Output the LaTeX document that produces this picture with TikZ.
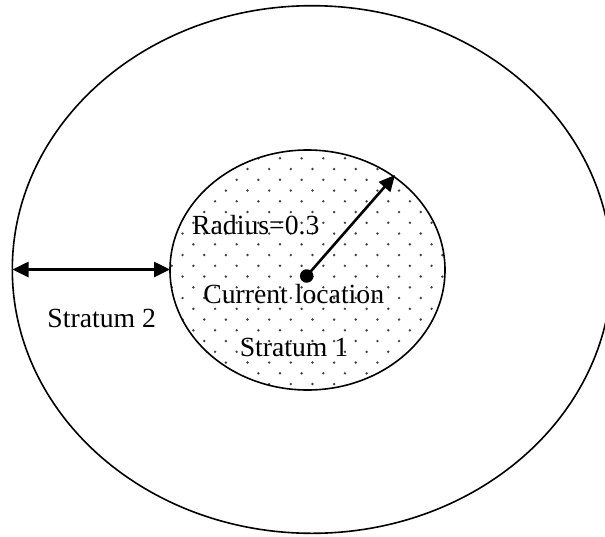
\documentclass[tikz,border=0pt]{standalone}
\usepackage{fontspec}
\setmainfont{Liberation Serif}
\usetikzlibrary{arrows.meta}
\tikzset{
  outline/.style={draw=black, line width=1.6pt},
  arrowline/.style={line width=2.6pt, {Triangle[length=16pt,width=15pt]}-{Triangle[length=16pt,width=15pt]}},
  radline/.style={line width=2.6pt, -{Triangle[length=16pt,width=15pt]}},
  lbl/.style={inner sep=0pt, anchor=base, font=\fontsize{27.7}{30}\selectfont},
  dotc/.style={fill=black!75},
}
\begin{document}
\begin{tikzpicture}[x=1pt,y=-1pt]
\useasboundingbox (0,0) rectangle (605,536);
\clip (0,0) rectangle (605,536);
% outer ellipse
\draw[outline] (312,269.5) ellipse (299.7 and 263.8);
% dot fill of inner region
\begin{scope}
\clip (307.5,270) ellipse (137.5 and 120);
\foreach \j in {-1,...,22}{
  \foreach \i in {-7,...,8}{
    \fill[dotc] ({280+21.65*\i+10.825*mod(\j+2,2)},{158.3+10.75*\j}) circle (1.35);
  }
}
\end{scope}
% inner ellipse
\draw[outline] (307.5,270) ellipse (137.5 and 120);
% labels
\node[lbl] (rad) at (255.8,234.3) {Radius=0.3};
\node[lbl] (cur) at (293.7,303.3) {Current location};
\node[lbl] (s1) at (294,356) {Stratum 1};
\node[lbl] (s2) at (101.7,327.3) {Stratum 2};
% centre dot and radius arrow
\node[circle, fill=black, inner sep=0pt, minimum size=13.5pt] (ctr) at (306.7,276) {};
\coordinate (tip) at (395,175);
\draw[radline] (ctr.center) -- (tip);
% width arrow of stratum 2
\coordinate (L) at (12.5,269.5);
\coordinate (R) at (170,269.5);
\draw[arrowline] (L) -- (R);
\end{tikzpicture}
\end{document}
